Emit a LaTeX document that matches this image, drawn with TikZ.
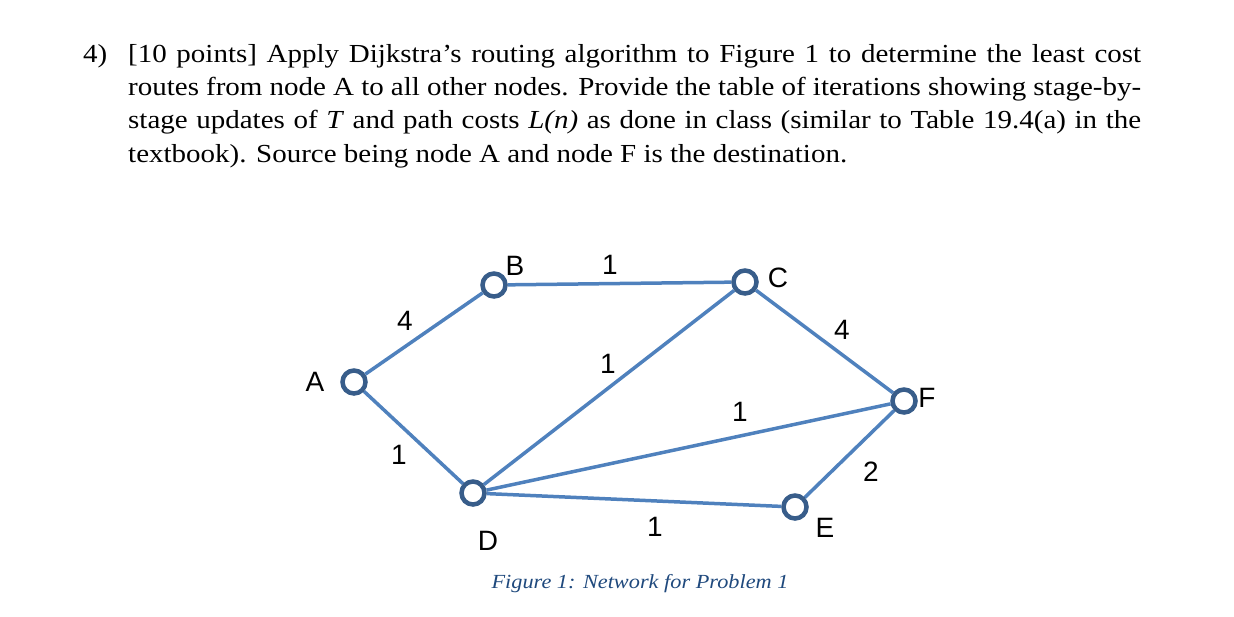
\documentclass[tikz,border=0pt]{standalone}
\usepackage{fontspec}
\setmainfont[FakeStretch=1.115]{Liberation Serif}
\setsansfont{Liberation Sans}
\usepackage{xcolor}
\usepackage{tikz}
\usetikzlibrary{positioning}
\usetikzlibrary{backgrounds}

\definecolor{linkblue}{RGB}{79,129,189}
\definecolor{ringblue}{RGB}{56,93,138}
\definecolor{capblue}{RGB}{31,73,125}

\begin{document}
\begin{tikzpicture}[
      x=1pt, y=-1pt,
      router/.style={circle, draw=ringblue, fill=white, line width=4.5pt,
                     minimum size=23pt, inner sep=0pt},
      link/.style={draw=linkblue, line width=3.5pt},
      rname/.style={font=\fontsize{28}{28}\selectfont\sffamily, inner sep=0pt},
      cost/.style={font=\fontsize{28}{28}\selectfont\sffamily, inner sep=0pt}
    ]
    \useasboundingbox (0,0) rectangle (1234,616);

    % Problem statement
    \node[anchor=base west, inner sep=0pt, font=\fontsize{26}{33.4}\selectfont] (num) at (83,62) {4)};
    \node[anchor=base west, inner sep=0pt, text width=1013pt, align=justify,
          font=\fontsize{26}{33.4}\selectfont] (task) at (128,62)
      {[10 points] Apply Dijkstra’s routing algorithm to Figure 1 to determine the least cost\linebreak
       routes from node A to all other nodes. Provide the table of iterations showing stage-by-\linebreak
       stage updates of \textit{T} and path costs \textit{L(n)} as done in class (similar to Table 19.4(a) in the\linebreak
       textbook). Source being node A and node F is the destination.};

    % Routers
    \node[router] (A) at (354,382) {};
    \node[router] (B) at (494,285) {};
    \node[router] (C) at (745,282) {};
    \node[router] (D) at (473,493) {};
    \node[router] (E) at (795,507) {};
    \node[router] (F) at (904,401) {};

    % Router names
    \node[rname] (nA) at (315,382) {A};
    \node[rname] (nB) at (515,266) {B};
    \node[rname] (nC) at (778,278) {C};
    \node[rname] (nD) at (488,541) {D};
    \node[rname] (nE) at (825,528) {E};
    \node[rname] (nF) at (927,398) {F};

    % Links
    \begin{scope}[on background layer]
      \draw[link] (A) -- (B);
      \draw[link] (A) -- (D);
      \draw[link] (B) -- (C);
      \draw[link] (C) -- (D);
      \draw[link] (C) -- (F);
      \draw[link] (D) -- (F);
      \draw[link] (D) -- (E);
      \draw[link] (E) -- (F);
    \end{scope}

    % Link costs
    \node[cost] (cAB) at (405,321) {4};
    \node[cost] (cBC) at (610,265) {1};
    \node[cost] (cCD) at (608,364) {1};
    \node[cost] (cCF) at (842,330) {4};
    \node[cost] (cDF) at (740,412) {1};
    \node[cost] (cAD) at (399,455) {1};
    \node[cost] (cEF) at (871,472) {2};
    \node[cost] (cDE) at (655,527) {1};

    % Caption
    \node[font=\fontsize{20}{20}\selectfont\itshape, text=capblue] (caption) at (640,584)
      {Figure 1: Network for Problem 1};
\end{tikzpicture}
\end{document}
